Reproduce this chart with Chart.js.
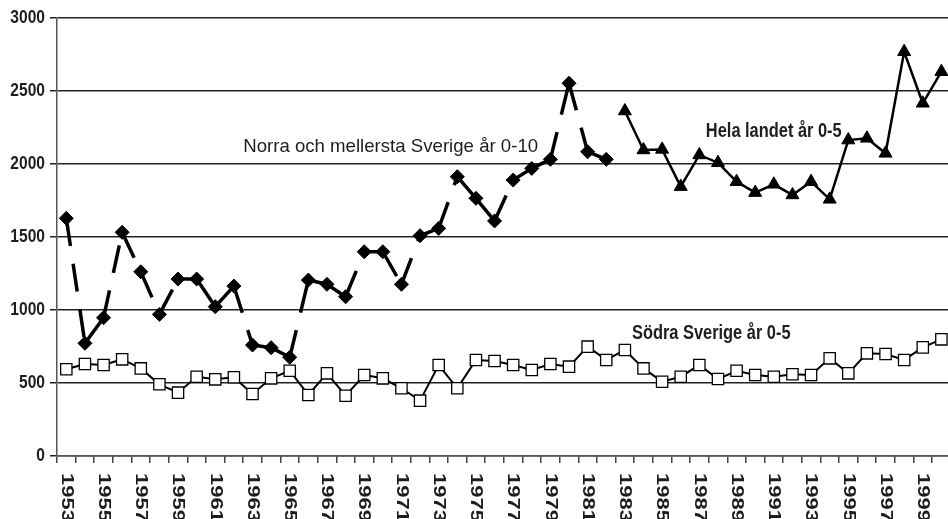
<!DOCTYPE html>
<html>
<head>
<meta charset="utf-8">
<script src="https://cdn.jsdelivr.net/npm/chart.js@4.4.0/dist/chart.umd.min.js"></script>
<style>
  html, body { margin: 0; padding: 0; background: #fff; overflow: hidden; }
  #wrap { width: 960px; height: 519px; }
</style>
</head>
<body>
<div id="wrap"><canvas id="chart" width="960" height="519"></canvas></div>
<script>
// ---------- Data ----------
const years = [
  "1953", "1954", "1955", "1956", "1957", "1958", "1959", "1960", "1961", "1962",
  "1963", "1964", "1965", "1966", "1967", "1968", "1969", "1970", "1971", "1972",
  "1973", "1974", "1975", "1976", "1977", "1978", "1979", "1980", "1981", "1982",
  "1983", "1984", "1985", "1986", "1987", "1988", "1989", "1990", "1991", "1992",
  "1993", "1994", "1995", "1996", "1997", "1998", "1999", "2000"
];

// Norra och mellersta Sverige, 0-10 years (1953-1982)
const norra = [
  1628, 772, 947, 1532, 1262, 970, 1212, 1212, 1023, 1164,
  760, 742, 676, 1205, 1176, 1091, 1399, 1399, 1176, 1509,
  1559, 1913, 1765, 1610, 1890, 1970, 2032, 2553, 2084, 2032,
  null, null, null, null, null, null, null, null, null, null,
  null, null, null, null, null, null, null, null
];

// Hela landet, 0-5 years (1983-2000)
const hela = [
  null, null, null, null, null, null, null, null, null, null,
  null, null, null, null, null, null, null, null, null, null,
  null, null, null, null, null, null, null, null, null, null,
  2363, 2096, 2100, 1845, 2062, 2009, 1879, 1804, 1861, 1788,
  1879, 1758, 2164, 2176, 2073, 2769, 2416, 2632
];

// Södra Sverige, 0-5 years
const sodra = [
  594, 630, 623, 662, 600, 491, 434, 543, 525, 539,
  425, 532, 584, 418, 566, 413, 555, 532, 464, 379,
  623, 464, 658, 651, 623, 589, 630, 612, 749, 658,
  726, 600, 509, 543, 623, 527, 584, 555, 543, 560,
  555, 669, 566, 703, 699, 658, 744, 799
];

const yTicks = [0, 500, 1000, 1500, 2000, 2500, 3000];

// Series labels written inside the plot
const seriesLabels = ["Norra och mellersta Sverige år 0-10", "Hela landet år 0-5", "Södra Sverige år 0-5"];

// ---------- Styling ----------
const FONT = '"Liberation Sans", Arial, sans-serif';
const INK = "#1e1e1e";

// where each series label sits: category index (fractional) + value, plus font
const labelStyles = [
  { at: 9.5, value: 2116, font: "19px " + FONT, sx: 0.98 },
  { at: 34.35, value: 2226, font: "bold 20px " + FONT, sx: 0.82 },
  { at: 30.38, value: 836, font: "bold 20px " + FONT, sx: 0.82 }
];

// ---------- Text plugin (ticks + inline labels, drawn like the original) ----------
const textPlugin = {
  id: "texts",
  afterDraw(chart) {
    const { ctx, scales: { x, y } } = chart;
    ctx.save();
    ctx.fillStyle = INK;

    // y tick labels
    ctx.font = "bold 19px " + FONT;
    ctx.textAlign = "right";
    ctx.textBaseline = "middle";
    yTicks.forEach((v) => {
      ctx.save();
      ctx.translate(x.left - 12, y.getPixelForValue(v));
      ctx.scale(0.82, 1);
      ctx.fillText(String(v), 0, 0);
      ctx.restore();
    });

    // x tick labels, every second year, rotated clockwise
    ctx.font = "bold 22px " + FONT;
    ctx.textAlign = "left";
    years.forEach((yr, i) => {
      if (i % 2) return;
      ctx.save();
      ctx.translate(x.getPixelForValue(i), y.bottom + 17);
      ctx.scale(0.78, 1);
      ctx.rotate(Math.PI / 2);
      ctx.fillText(yr, 0, 0);
      ctx.restore();
    });

    // inline series labels
    ctx.textAlign = "left";
    seriesLabels.forEach((txt, i) => {
      const s = labelStyles[i];
      ctx.save();
      ctx.font = s.font;
      ctx.translate(x.getPixelForValue(s.at), y.getPixelForValue(s.value));
      ctx.scale(s.sx, 1);
      ctx.fillText(txt, 0, 0);
      ctx.restore();
    });
    ctx.restore();
  }
};

// ---------- Chart ----------
new Chart(document.getElementById("chart"), {
  type: "line",
  data: {
    labels: years,
    datasets: [
      {
        label: seriesLabels[0],
        data: norra,
        borderColor: "#000",
        borderWidth: 3.5,
        borderDash: [28, 18],
        // restart the dash pattern at every point, like the original
        segment: { borderDashOffset: (c) => (c.p0DataIndex % 2 ? 0.001 : 0) },
        pointStyle: "rectRot",
        pointRadius: 7,
        pointBackgroundColor: "#000",
        pointBorderColor: "#000",
        pointBorderWidth: 1,
        tension: 0,
        spanGaps: false
      },
      {
        label: seriesLabels[1],
        data: hela,
        borderColor: "#000",
        borderWidth: 2.5,
        pointStyle: "triangle",
        pointRadius: 7.5,
        pointBackgroundColor: "#000",
        pointBorderColor: "#000",
        pointBorderWidth: 1,
        tension: 0
      },
      {
        label: seriesLabels[2],
        data: sodra,
        borderColor: "#000",
        borderWidth: 2,
        pointStyle: "rect",
        pointRadius: 8,
        pointBackgroundColor: "#fff",
        pointBorderColor: "#000",
        pointBorderWidth: 1.3,
        tension: 0
      }
    ]
  },
  options: {
    responsive: false,
    animation: false,
    layout: { padding: { top: 18, right: 8, left: 0, bottom: 0 } },
    plugins: { legend: { display: false }, tooltip: { enabled: false } },
    scales: {
      x: {
        type: "category",
        offset: true,
        grid: { offset: true, drawOnChartArea: false, drawTicks: true, tickLength: 7, color: "#444", lineWidth: 1.5 },
        border: { color: "#555", width: 1.5 },
        ticks: { display: false },
        afterFit: (s) => { s.height = 63; }
      },
      y: {
        min: 0,
        max: 3000,
        ticks: { stepSize: 500, display: false },
        grid: { color: "#222", lineWidth: 1.5, tickLength: 7, drawTicks: true },
        border: { color: "#555", width: 1.5 },
        afterFit: (s) => { s.width = 57; }
      }
    }
  },
  plugins: [textPlugin]
});
</script>
</body>
</html>
